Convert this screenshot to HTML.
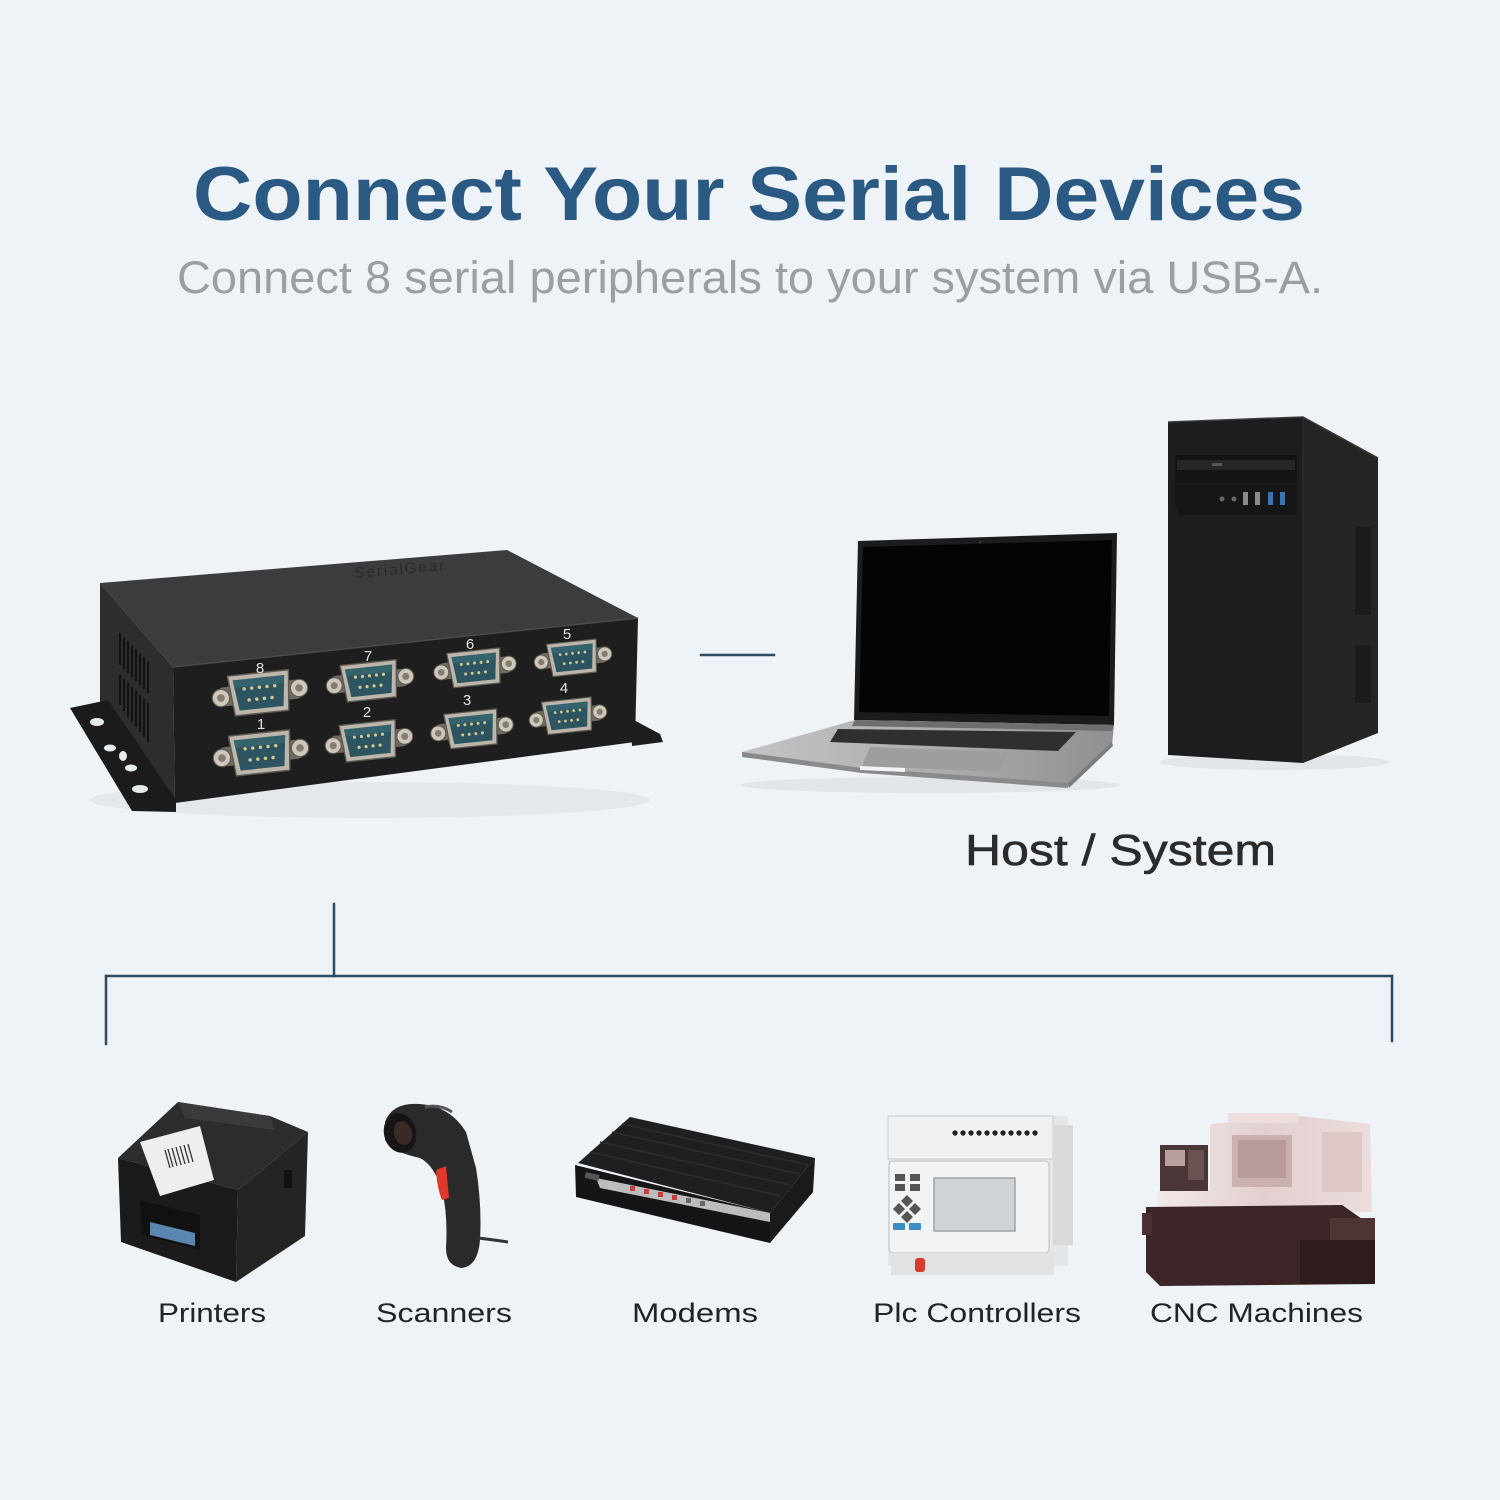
<!DOCTYPE html>
<html><head><meta charset="utf-8"><style>
html,body{margin:0;padding:0;background:#eef3f7;}
svg{display:block;}
</style></head><body>
<svg width="1500" height="1500" viewBox="0 0 1500 1500" xmlns="http://www.w3.org/2000/svg">
<defs>
<g id="db9">
  <rect x="-47" y="-10" width="94" height="20" rx="10" fill="#6f6a61"/>
  <path d="M-32,-21 H32 L28,21 H-28 Z" fill="#bdb7ab" stroke="#5e5a53" stroke-width="1.5" stroke-linejoin="round"/>
  <path d="M-27,-16 H27 L23,16 H-23 Z" fill="#2c5561"/>
  <path d="M-27,-16 H27 L26,-8 H-26 Z" fill="#3a6a75" opacity="0.6"/>
  <g fill="#d6c78f">
    <circle cx="-16" cy="-6" r="1.8"/><circle cx="-8" cy="-6" r="1.8"/><circle cx="0" cy="-6" r="1.8"/><circle cx="8" cy="-6" r="1.8"/><circle cx="16" cy="-6" r="1.8"/>
    <circle cx="-12" cy="6" r="1.8"/><circle cx="-4" cy="6" r="1.8"/><circle cx="4" cy="6" r="1.8"/><circle cx="12" cy="6" r="1.8"/>
  </g>
  <circle cx="-41" cy="1" r="9" fill="#cfc8ba" stroke="#5f5a52" stroke-width="1.2"/>
  <circle cx="-41" cy="1" r="4" fill="#837c6f"/>
  <circle cx="41" cy="-1" r="9" fill="#cfc8ba" stroke="#5f5a52" stroke-width="1.2"/>
  <circle cx="41" cy="-1" r="4" fill="#837c6f"/>
</g>
<linearGradient id="lapBase" x1="0" y1="0" x2="1" y2="0">
  <stop offset="0" stop-color="#c4c4c6"/><stop offset="0.6" stop-color="#a9a9ab"/><stop offset="1" stop-color="#8f8f91"/>
</linearGradient>
<linearGradient id="cncTop" x1="0" y1="0" x2="1" y2="0">
  <stop offset="0" stop-color="#f2e8e8"/><stop offset="0.5" stop-color="#e3cfcf"/><stop offset="1" stop-color="#ecdcdc"/>
</linearGradient>
</defs>

<rect width="1500" height="1500" fill="#eef3f7"/>

<!-- Titles -->
<text x="193" y="220" font-family="Liberation Sans, Arial, sans-serif" font-weight="bold" font-size="76" fill="#2a5a84" textLength="1112" lengthAdjust="spacingAndGlyphs">Connect Your Serial Devices</text>
<text x="177" y="293" font-family="Liberation Sans, Arial, sans-serif" font-size="45" fill="#9a9fa4" textLength="1146" lengthAdjust="spacingAndGlyphs">Connect 8 serial peripherals to your system via USB-A.</text>

<!-- Connector lines -->
<g stroke="#2d4b62" stroke-width="2.5" fill="none" stroke-linecap="square">
  <line x1="701" y1="655" x2="774" y2="655"/>
  <line x1="334" y1="904" x2="334" y2="976"/>
  <line x1="106" y1="976" x2="1392" y2="976"/>
  <line x1="106" y1="976" x2="106" y2="1044"/>
  <line x1="1392" y1="976" x2="1392" y2="1041"/>
</g>

<!-- Serial hub -->
<ellipse cx="370" cy="800" rx="280" ry="18" fill="#dde2e6" opacity="0.7"/>
<polygon points="630,718 660,734 663,742 632,746" fill="#1e1e1e"/>
<polygon points="100,583 173,667 175,803 100,748" fill="#2d2d2d"/>
<polygon points="100,583 507,550 638,618 173,667" fill="#3c3c3c"/>
<polygon points="173,667 638,618 635,742 175,803" fill="#1e1e1e"/>
<line x1="173" y1="667" x2="638" y2="618" stroke="#4a4a4a" stroke-width="1.5"/>
<text x="355" y="578" font-family="Liberation Sans, Arial, sans-serif" font-size="15" fill="#2a2a2a" letter-spacing="2" transform="rotate(-5 355 578)">SerialGear</text>
<!-- vents -->
<g stroke="#121212" stroke-width="2">
  <line x1="120" y1="633" x2="120" y2="665"/><line x1="124" y1="637" x2="124" y2="669"/><line x1="128" y1="641" x2="128" y2="673"/><line x1="132" y1="645" x2="132" y2="677"/><line x1="136" y1="649" x2="136" y2="681"/><line x1="140" y1="653" x2="140" y2="685"/><line x1="144" y1="657" x2="144" y2="689"/><line x1="148" y1="661" x2="148" y2="693"/>
  <line x1="120" y1="675" x2="120" y2="705"/><line x1="124" y1="679" x2="124" y2="711"/><line x1="128" y1="683" x2="128" y2="717"/><line x1="132" y1="687" x2="132" y2="722"/><line x1="136" y1="691" x2="136" y2="727"/><line x1="140" y1="695" x2="140" y2="732"/><line x1="144" y1="699" x2="144" y2="737"/><line x1="148" y1="703" x2="148" y2="742"/>
</g>
<!-- left flange -->
<polygon points="70,708 108,700 176,800 176,812 132,811" fill="#1b1b1b"/>
<g fill="#e6ebee">
  <ellipse cx="97" cy="722" rx="7" ry="4"/>
  <ellipse cx="110" cy="748" rx="6" ry="3.5"/>
  <ellipse cx="123" cy="756" rx="4" ry="5"/>
  <ellipse cx="131" cy="768" rx="6" ry="3.5"/>
  <ellipse cx="140" cy="789" rx="8" ry="4"/>
</g>
<!-- connectors -->
<use href="#db9" transform="translate(260,693) rotate(-6) scale(0.96)"/>
<use href="#db9" transform="translate(370,681) rotate(-6) scale(0.88)"/>
<use href="#db9" transform="translate(475,668) rotate(-6) scale(0.83)"/>
<use href="#db9" transform="translate(573,658) rotate(-6) scale(0.78)"/>
<use href="#db9" transform="translate(261,753) rotate(-6) scale(0.96)"/>
<use href="#db9" transform="translate(369,741) rotate(-6) scale(0.88)"/>
<use href="#db9" transform="translate(472,729) rotate(-6) scale(0.83)"/>
<use href="#db9" transform="translate(568,716) rotate(-6) scale(0.78)"/>
<g font-family="Liberation Sans, Arial, sans-serif" font-size="15" fill="#e2e2e2" text-anchor="middle">
  <text x="260" y="673">8</text><text x="368" y="661">7</text><text x="470" y="649">6</text><text x="567" y="639">5</text>
  <text x="261" y="729">1</text><text x="367" y="717">2</text><text x="467" y="705">3</text><text x="564" y="693">4</text>
</g>

<!-- Laptop -->
<ellipse cx="930" cy="785" rx="190" ry="8" fill="#dde2e6" opacity="0.8"/>
<polygon points="858,541 1117,533 1114,725 854,720" fill="#1c1c1c"/>
<polygon points="863,547 1112,540 1109,716 859,712" fill="#040404"/>
<circle cx="980" cy="542" r="1.5" fill="#333"/>
<polygon points="742,752 855,720 1114,725 1112,745 1068,787 862,772 742,757" fill="url(#lapBase)"/>
<polygon points="742,752 862,768 1068,783 1068,788 862,773 742,757" fill="#8a8a8c"/>
<polygon points="1068,783 1112,742 1113,746 1069,788" fill="#7d7d7f"/>
<polygon points="855,720 1114,725 1112,731 852,726" fill="#6e6e70"/>
<polygon points="838,729 1076,732 1058,751 830,742" fill="#2f2f31"/>
<polygon points="870,747 1008,752 1000,772 862,766" fill="#9e9ea0"/>
<polygon points="860,766 905,768 905,772 860,770" fill="#f4f4f4"/>

<!-- Tower -->
<ellipse cx="1275" cy="762" rx="115" ry="8" fill="#dde2e6" opacity="0.8"/>
<polygon points="1303,417 1378,458 1378,733 1303,763" fill="#252525"/>
<polygon points="1168,422 1303,417 1303,763 1168,755" fill="#1d1d1d"/>
<polyline points="1168,422 1303,417 1378,458" fill="none" stroke="#3a3a3a" stroke-width="1.5"/>
<line x1="1303" y1="417" x2="1303" y2="763" stroke="#2c2c2c" stroke-width="1.5"/>
<rect x="1175" y="455" width="122" height="28" fill="#141414"/>
<rect x="1177" y="460" width="118" height="10" fill="#262626"/>
<rect x="1212" y="463" width="10" height="3" fill="#555"/>
<path d="M1175,485 H1297 V515 H1180 Q1175,510 1175,500 Z" fill="#161616"/>
<circle cx="1222" cy="499" r="2.5" fill="#666"/>
<circle cx="1234" cy="499" r="2.5" fill="#666"/>
<rect x="1243" y="492" width="5" height="13" fill="#8a8a8a"/>
<rect x="1255" y="492" width="5" height="13" fill="#8a8a8a"/>
<rect x="1268" y="492" width="5" height="13" fill="#3d73b0"/>
<rect x="1280" y="492" width="5" height="13" fill="#3d73b0"/>
<rect x="1355" y="527" width="16" height="88" fill="#1c1c1c"/>
<rect x="1355" y="645" width="16" height="58" fill="#1c1c1c"/>

<!-- Host label -->
<text x="965" y="865" font-family="Liberation Sans, Arial, sans-serif" font-size="44" fill="#2b2b2b" stroke="#2b2b2b" stroke-width="0.6" textLength="311" lengthAdjust="spacingAndGlyphs">Host / System</text>

<!-- Printer -->
<polygon points="118,1158 178,1102 270,1116 308,1132 238,1190" fill="#2c2c2c"/>
<polygon points="178,1102 270,1116 275,1130 185,1118" fill="#3a3a3a"/>
<polygon points="118,1158 238,1190 236,1282 121,1242" fill="#1b1b1b"/>
<polygon points="238,1190 308,1132 305,1236 236,1282" fill="#242424"/>
<polygon points="140,1142 200,1126 214,1180 160,1196" fill="#eeeeee"/>
<g stroke="#333" stroke-width="1.3">
  <line x1="165" y1="1150" x2="170" y2="1168"/><line x1="168" y1="1149" x2="173" y2="1167"/><line x1="172" y1="1148" x2="177" y2="1166"/><line x1="176" y1="1147" x2="181" y2="1165"/><line x1="180" y1="1146" x2="185" y2="1164"/><line x1="184" y1="1145" x2="189" y2="1163"/><line x1="188" y1="1144" x2="193" y2="1162"/>
</g>
<polygon points="140,1200 200,1215 200,1250 142,1235" fill="#111"/>
<polygon points="150,1222 195,1233 195,1246 150,1235" fill="#5a86b0"/>
<rect x="284" y="1170" width="8" height="18" fill="#111"/>

<!-- Scanner -->
<path d="M385,1122 Q392,1102 420,1104 Q450,1106 466,1132 L476,1168 Q482,1205 480,1240 Q478,1266 462,1268 Q446,1266 446,1248 Q448,1215 442,1190 Q434,1165 420,1158 Q392,1152 385,1140 Z" fill="#2a2a2a"/>
<ellipse cx="400" cy="1133" rx="16" ry="20" fill="#151515" transform="rotate(-15 400 1133)"/>
<ellipse cx="403" cy="1133" rx="9" ry="12" fill="#3a2a26" transform="rotate(-15 403 1133)"/>
<path d="M436,1170 L446,1166 L449,1198 L442,1200 Q437,1188 436,1170 Z" fill="#e0382a"/>
<path d="M478,1238 Q495,1240 508,1242" stroke="#333" stroke-width="3" fill="none"/>
<path d="M425,1107 Q440,1104 452,1112" stroke="#555" stroke-width="3" fill="none"/>

<!-- Modem -->
<polygon points="578,1163 630,1117 815,1158 770,1213" fill="#1f1f1f"/>
<g stroke="#2d2d2d" stroke-width="1.5">
  <line x1="600" y1="1142" x2="790" y2="1185"/><line x1="612" y1="1132" x2="800" y2="1174"/><line x1="622" y1="1124" x2="808" y2="1165"/><line x1="590" y1="1152" x2="780" y2="1196"/>
</g>
<polygon points="575,1165 770,1213 770,1243 576,1197" fill="#151515"/>
<polygon points="815,1158 770,1213 770,1243 813,1192" fill="#1a1a1a"/>
<polygon points="596,1178 770,1213 770,1222 600,1188" fill="#bdbdbd"/>
<rect x="586" y="1172" width="14" height="6" fill="#555" transform="rotate(13 586 1172)"/>
<g fill="#c04040">
  <rect x="630" y="1186" width="5" height="5"/><rect x="644" y="1189" width="5" height="5"/><rect x="658" y="1192" width="5" height="5"/><rect x="672" y="1195" width="5" height="5"/>
</g>
<g fill="#666">
  <rect x="686" y="1198" width="5" height="5"/><rect x="700" y="1201" width="5" height="5"/>
</g>

<!-- PLC -->
<rect x="888" y="1116" width="180" height="150" fill="#e4e6e8"/>
<rect x="888" y="1116" width="165" height="43" fill="#eef0f1" stroke="#c8cacc" stroke-width="1"/>
<rect x="1053" y="1125" width="20" height="120" fill="#d8dadc"/>
<g fill="#222">
  <circle cx="955" cy="1133" r="2.7"/><circle cx="963" cy="1133" r="2.7"/><circle cx="971" cy="1133" r="2.7"/><circle cx="979" cy="1133" r="2.7"/><circle cx="987" cy="1133" r="2.7"/><circle cx="995" cy="1133" r="2.7"/><circle cx="1003" cy="1133" r="2.7"/><circle cx="1011" cy="1133" r="2.7"/><circle cx="1019" cy="1133" r="2.7"/><circle cx="1027" cy="1133" r="2.7"/><circle cx="1035" cy="1133" r="2.7"/>
</g>
<rect x="889" y="1161" width="160" height="92" rx="4" fill="#f2f3f4" stroke="#c5c7c9" stroke-width="1.2"/>
<rect x="934" y="1178" width="81" height="53" fill="#cfd3d5" stroke="#9fa3a6" stroke-width="1.5"/>
<g fill="#555">
  <rect x="895" y="1174" width="10" height="7"/><rect x="910" y="1174" width="10" height="7"/>
  <rect x="895" y="1184" width="10" height="7"/><rect x="910" y="1184" width="10" height="7"/>
  <polygon points="907,1195 913,1201 907,1207 901,1201"/><polygon points="899,1203 905,1209 899,1215 893,1209"/><polygon points="915,1203 921,1209 915,1215 909,1209"/><polygon points="907,1211 913,1217 907,1223 901,1217"/>
</g>
<rect x="893" y="1223" width="12" height="7" rx="1" fill="#3d8ec4"/>
<rect x="909" y="1223" width="12" height="7" rx="1" fill="#3d8ec4"/>
<rect x="891" y="1253" width="163" height="22" fill="#e0e2e4"/>
<rect x="915" y="1258" width="10" height="14" rx="3" fill="#d83a2c"/>

<!-- CNC -->
<polygon points="1158,1190 1210,1190 1210,1124 1300,1116 1370,1124 1372,1212 1158,1212" fill="url(#cncTop)"/>
<rect x="1228" y="1113" width="70" height="10" fill="#ecdede"/>
<rect x="1232" y="1135" width="60" height="52" fill="#cbb0b0"/>
<rect x="1238" y="1140" width="48" height="38" fill="#b89a9a"/>
<rect x="1160" y="1145" width="48" height="46" fill="#4a3636"/>
<rect x="1165" y="1150" width="20" height="16" fill="#b8a0a0"/>
<rect x="1188" y="1150" width="16" height="30" fill="#6a5252"/>
<rect x="1322" y="1132" width="40" height="60" fill="#ddc7c7"/>
<polygon points="1146,1207 1342,1205 1375,1228 1375,1284 1160,1286 1146,1272" fill="#3b2526"/>
<rect x="1142" y="1213" width="10" height="22" fill="#4a3031"/>
<rect x="1300" y="1240" width="75" height="44" fill="#2e1c1d"/>
<rect x="1330" y="1218" width="45" height="22" fill="#4e3435"/>

<!-- Labels -->
<g font-family="Liberation Sans, Arial, sans-serif" font-size="27" fill="#232323">
  <text x="158" y="1322" textLength="108" lengthAdjust="spacingAndGlyphs">Printers</text>
  <text x="376" y="1322" textLength="136" lengthAdjust="spacingAndGlyphs">Scanners</text>
  <text x="632" y="1322" textLength="126" lengthAdjust="spacingAndGlyphs">Modems</text>
  <text x="873" y="1322" textLength="208" lengthAdjust="spacingAndGlyphs">Plc Controllers</text>
  <text x="1150" y="1322" textLength="213" lengthAdjust="spacingAndGlyphs">CNC Machines</text>
</g>
</svg>
</body></html>
